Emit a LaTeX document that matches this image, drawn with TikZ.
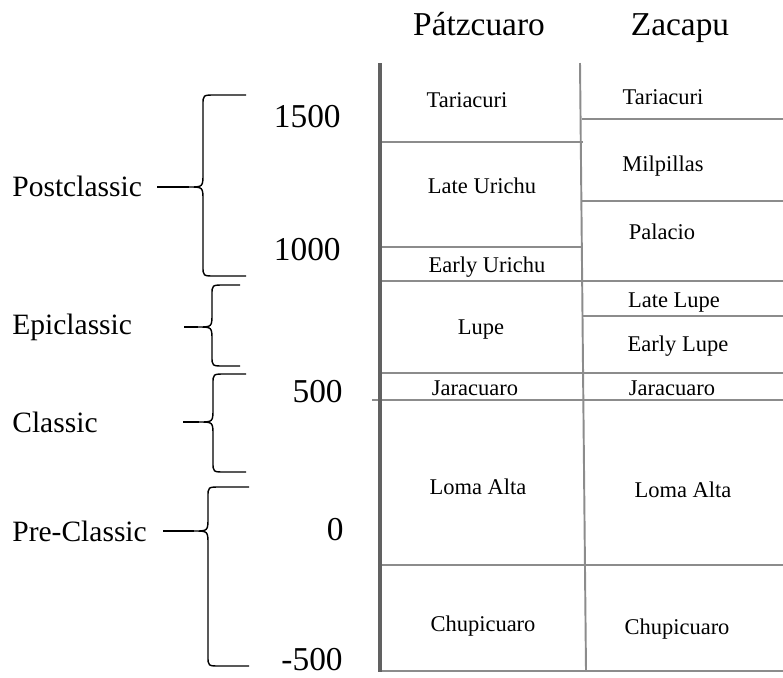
\documentclass[tikz,border=0pt]{standalone}
\usepackage{fontspec}
\setmainfont{Liberation Serif}
\usetikzlibrary{positioning}
\tikzstyle{title} = [font=\fontsize{19}{19}\selectfont, inner sep=0pt, anchor=base]
\tikzstyle{phase} = [font=\fontsize{12.8}{13}\selectfont, inner sep=0pt]
\tikzstyle{era} = [font=\fontsize{16.8}{17}\selectfont, inner sep=0pt, anchor=west]
\tikzstyle{year} = [font=\fontsize{19}{19}\selectfont, inner sep=0pt, anchor=east]
\tikzstyle{rule} = [draw=black!45, line width=1.1pt]
\tikzstyle{axis} = [draw=black!62, line width=2.3pt]
\tikzstyle{brace} = [draw=black, line width=0.8pt]
\newcommand{\period}[7]{ %
  % Brace #1 from y=#2 to y=#3, spine at x=#4, tip at y=#5,
  % arms reaching x=#6, stem starting at x=#7.
  \coordinate (#1tip) at (#4-14,#5);
  \draw[brace] (#6,#2) -- (#4+12,#2) .. controls (#4,#2) .. (#4,#2+10)
    -- (#4,#5-14) .. controls (#4,#5) .. (#1tip)
    .. controls (#4,#5) .. (#4,#5+14)
    -- (#4,#3-10) .. controls (#4,#3) .. (#4+12,#3) -- (#6,#3);
  \draw[brace] (#7,#5) -- (#1tip);
}

\begin{document}
\begin{tikzpicture}[x=0.02cm, y=-0.02cm]
  \useasboundingbox (0,0) rectangle (783,677);

  % column heads
  \node[title] (hpatz) at (479,35) {Pátzcuaro};
  \node[title] (hzaca) at (680,35) {Zacapu};

  % table rules
  \foreach \y in {142,247,281,373,565,671}
    \draw[rule] (380,\y) -- (583,\y);
  \draw[rule] (372,400) -- (583,400);
  \foreach \y in {119,201,281,316,373,400,565,671}
    \draw[rule] (582,\y) -- (783,\y);
  \draw[rule] (580,63) -- (586,671);
  \draw[axis] (380,63) -- (380,672);

  % Patzcuaro phases
  \node[phase] (ptar) at (467,100) {Tariacuri};
  \node[phase] (plate) at (482,186) {Late Urichu};
  \node[phase] (pearly) at (487,267) {Early Urichu};
  \node[phase] (plupe) at (481,330) {Lupe};
  \node[phase] (pjara) at (475,388) {Jaracuaro};
  \node[phase] (ploma) at (478,487) {Loma Alta};
  \node[phase] (pchup) at (483,626) {Chupicuaro};

  % Zacapu phases
  \node[phase] (ztar) at (663,97) {Tariacuri};
  \node[phase] (zmilp) at (663,166) {Milpillas};
  \node[phase] (zpal) at (662,232) {Palacio};
  \node[phase] (zlate) at (674,303) {Late Lupe};
  \node[phase] (zearly) at (678,346) {Early Lupe};
  \node[phase] (zjara) at (672,388) {Jaracuaro};
  \node[phase] (zloma) at (683,490) {Loma Alta};
  \node[phase] (zchup) at (677,629) {Chupicuaro};

  % years
  \node[year] (y1500) at (341,117) {1500};
  \node[year] (y1000) at (341,250) {1000};
  \node[year] (y500) at (343,392) {500};
  \node[year] (y0) at (344,530) {0};
  \node[year] (ym500) at (343,660) {-500};

  % eras
  \node[era] (post) at (12,186) {Postclassic};
  \node[era] (epi) at (12,327) {Epiclassic};
  \node[era] (clas) at (12,422) {Classic};
  \node[era] (pre) at (12,531) {Pre-Classic};

  \period{post}{95}{276}{203}{187}{246}{157}
  \period{epi}{285}{366}{212}{327}{240}{184}
  \period{clas}{374}{472}{213}{422}{246}{183}
  \period{pre}{487}{666}{208}{531}{249}{163}
\end{tikzpicture}
\end{document}
